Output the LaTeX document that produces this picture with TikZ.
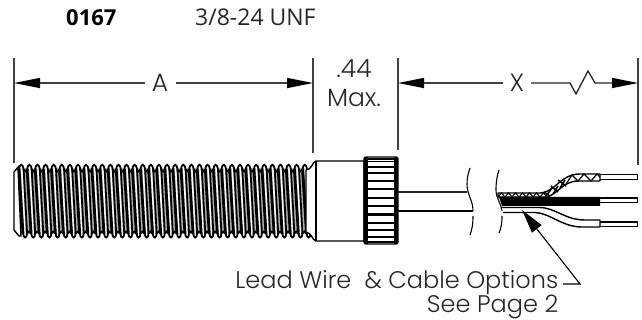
\documentclass[tikz,border=0pt]{standalone}
\usepackage{fontspec}
\setmainfont{Poppins}[UprightFont=* Light]
\newfontfamily\headfont{Open Sans}
\usetikzlibrary{arrows.meta}
\tikzset{
  x=1pt,y=-1pt,
  dimtip/.tip={Triangle[length=26pt,width=10pt,black]},
  halfdim/.style={line width=1.3pt,black!75},
  ext/.style={line width=1.3pt,black!75},
  lbl/.style={inner sep=0pt,anchor=base,font=\fontsize{25}{30}\selectfont,text=black!85},
  note/.style={inner sep=0pt,anchor=base east,font=\fontsize{24}{28}\selectfont,text=black!85},
  part/.style={line width=1.4pt,black,line join=round},
  breakline/.style={line width=1.1pt,black},
}
\begin{document}
\begin{tikzpicture}
\useasboundingbox (0,0) rectangle (642,320);
% header
\node[inner sep=0pt,anchor=base west,font=\headfont\bfseries\fontsize{22}{26}\selectfont] (code) at (66,26) {0167};
\node[inner sep=0pt,anchor=base west,font=\headfont\fontsize{23}{26}\selectfont,text=black!85] (spec) at (195,26) {3/8-24 UNF};
% extension lines
\coordinate (a1) at (14,83); \coordinate (a2) at (313,83);
\coordinate (x1) at (398,83); \coordinate (x2) at (638,83);
\draw[ext] (14,58) -- (14,163);
\draw[ext] (313,58) -- (313,153);
\draw[ext] (398,58) -- (398,150);
\draw[ext] (638,58) -- (638,165);
% A
\node[lbl] (A) at (160,91.7) {A};
\coordinate (al) at (145,83); \coordinate (ar) at (176,83);
\draw[halfdim,dimtip-] (a1) -- (al);
\draw[halfdim,-dimtip] (ar) -- (a2);
% .44 Max.
\node[lbl] (v44) at (354,77.7) {.44};
\node[lbl] (vmax) at (354,106.7) {Max.};
% X
\node[lbl] (X) at (517,91.7) {X};
\coordinate (xl) at (503,83); \coordinate (xr) at (531,83);
\draw[halfdim,dimtip-] (x1) -- (xl);
\draw[halfdim,-dimtip,black!85] (xr) -- (570,83) -- (576,94) -- (588,71) -- (595,83) -- (x2);
% thread
\fill[black!30] (19,168) rectangle (306,234);
\foreach \i in {0,...,35}{
  \pgfmathsetmacro{\xx}{19+8.1*\i}
  \fill[white] (\xx+2,168) -- (\xx+3.6,168) -- (\xx+6.6,234) -- (\xx+5,234) -- cycle;
  \draw[line width=2.8pt] (\xx,169) -- (\xx+4,234);
  \draw[line width=1.8pt] (\xx+4.6,169) -- (\xx+8.1,234);
  \draw[line width=1.8pt] (\xx,170) .. controls (\xx+0.5,163) and (\xx+4,163) .. (\xx+4.6,170) .. controls (\xx+5.5,172) and (\xx+7,172) .. (\xx+8.1,170);
  \draw[line width=1.8pt] (\xx+4,233) .. controls (\xx+4.5,239) and (\xx+8,239) .. (\xx+8.1,233) .. controls (\xx+9,231) and (\xx+11,231) .. (\xx+12.1,233);
}
\draw[part,fill=white] (19,166) -- (14,172) -- (14,230) -- (19,236) -- (21,236) -- (18,168) -- cycle;
\fill[white] (306,172) rectangle (312,232);
\draw[line width=1.8pt] (303,171) -- (307,232);
% collar
\draw[part,fill=white] (306,170) .. controls (312,170) and (312,162) .. (316,161) -- (364,161) -- (364,241) -- (316,241) .. controls (312,240) and (312,233) .. (306,232) -- cycle;
\draw[part] (316,161) -- (316,241);
% knurl
\draw[part,fill=white,rounded corners=2pt] (364,157) rectangle (398,244);
\fill (364,157) rectangle (368,244);
\fill (394,157) rectangle (398,244);
\foreach \y/\w in {159/2.5,162/1,167/1.8,173/1.8,181/1.2,189/1.8,198/1.8,206/1.8,215/3,223/1.8,230/1.5,237/1.5,242/2.5}{
  \draw[line width=\w pt] (364,\y) -- (398,\y);
}
% cable
\draw[line width=1.1pt,black!85] (398,192) -- (467,192);
\draw[part] (398,211) -- (473,211);
\draw[breakline] (470,168) .. controls (468,174) and (467,178) .. (467,184) .. controls (467,195) and (473,200) .. (473,211);
\draw[breakline] (473,216) .. controls (473,224) and (472,230) .. (470,235);
\draw[breakline] (499,170) .. controls (497,176) and (496,182) .. (496,190) .. controls (496,198) and (501,203) .. (502,211);
\draw[breakline] (502,216) .. controls (502,224) and (501,228) .. (499,233);
% conductors
\foreach \y in {177,200.5,224.5}{
  \draw[line width=6pt,black] (598,\y) -- (638,\y);
  \draw[line width=3.4pt,white] (598,\y) -- (636.8,\y);
}
% shielded (braided) jacket
\draw[part,fill=white] (498,193) -- (540,193) .. controls (556,192) and (560,174) .. (580,174) -- (600,174) -- (600,181) -- (578,181) .. controls (562,181) and (556,197) .. (545,197) -- (498,197) -- cycle;
\foreach \a in {498,505,512,519,526,533,540}{
  \draw[line width=1.1pt] (\a,197) -- (\a+3.5,193) -- (\a+7,197);
}
\draw[line width=1.5pt] (546,196) -- (552,188) (550,196) -- (544,192) (553,194) -- (558,186) (558,192) -- (551,186) (560,188) -- (565,180) (566,186) -- (558,180);
\draw[line width=1.2pt] (566,184) -- (572,175) -- (578,181) -- (584,174) -- (591,181) -- (597,174) -- (600,177);
% black jacket
\fill (499,197) -- (600,197) -- (600,206) -- (502,206) -- cycle;
% white jacket
\draw[part,fill=white] (502,207.5) -- (540,207.5) .. controls (556,208) and (565,220) .. (585,220) -- (600,220) -- (600,227) -- (582,227) .. controls (562,227) and (550,213) .. (535,212.5) -- (503,212.5);
% leader
\coordinate (tip) at (522,210);
\coordinate (bend) at (580,284);
\coordinate (lend) at (563,284);
\draw[line width=1.1pt,{Triangle[length=24pt,width=12pt,black]}-] (tip) -- (bend) -- (lend);
% labels
\node[note] (lead) at (558.5,288.5) {Lead Wire\ \ \& Cable Options};
\node[note] (page) at (558.5,312) {See Page 2};
\end{tikzpicture}
\end{document}
